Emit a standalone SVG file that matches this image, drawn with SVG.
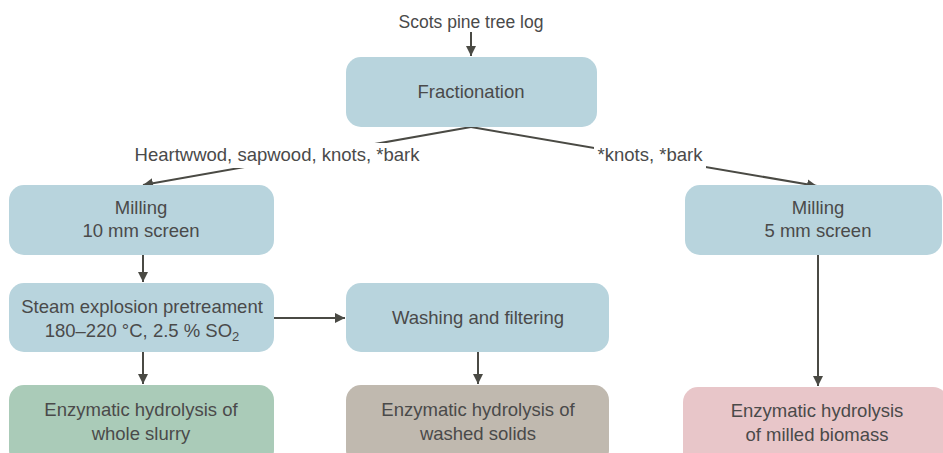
<svg xmlns="http://www.w3.org/2000/svg" width="943" height="453" viewBox="0 0 943 453">
  <defs>
    <marker id="arrow" viewBox="0 0 10 10" refX="10" refY="5" markerWidth="10" markerHeight="10" markerUnits="userSpaceOnUse" orient="auto">
      <path d="M0,0 L10,5 L0,10 z" fill="#4a4a44"/>
    </marker>
  </defs>
  <style>
    text { font-family: "Liberation Sans", Arial, sans-serif; font-size: 18.5px; fill: #4a4a4a; text-anchor: middle; }
    .title { font-size: 17.5px; }
    .blue { fill: #b8d4dd; }
    .green { fill: #aacbb8; }
    .tan { fill: #c0b9af; }
    .pink { fill: #e8c6c9; }
    .edge { stroke: #4a4a44; stroke-width: 2; fill: none; marker-end: url(#arrow); }
  </style>
  <rect width="943" height="453" fill="#ffffff"/>

  <!-- connectors -->
  <g id="connectors">
    <line class="edge" x1="471" y1="32" x2="471" y2="56"/>
    <line class="edge" x1="471" y1="127" x2="143" y2="185"/>
    <line class="edge" x1="471" y1="127" x2="817" y2="186"/>
    <line class="edge" x1="143" y1="255" x2="143" y2="282"/>
    <line class="edge" x1="143" y1="352" x2="143" y2="384"/>
    <line class="edge" x1="274" y1="318" x2="345" y2="318"/>
    <line class="edge" x1="478" y1="352" x2="478" y2="384"/>
    <line class="edge" x1="818" y1="255" x2="818" y2="386"/>
    <!-- edge labels sit on a white patch over the lines -->
    <rect x="128" y="143" width="298" height="25" fill="#ffffff"/>
    <text x="277" y="161">Heartwwod, sapwood, knots, *bark</text>
    <rect x="594" y="143" width="112" height="25" fill="#ffffff"/>
    <text x="650" y="161">*knots, *bark</text>
  </g>

  <g id="source">
    <text class="title" x="471" y="28">Scots pine tree log</text>
  </g>

  <g id="fractionation">
    <rect class="blue" x="346" y="57" width="251" height="70" rx="15"/>
    <text x="471" y="98">Fractionation</text>
  </g>

  <g id="milling10">
    <rect class="blue" x="9" y="185" width="265" height="70" rx="15"/>
    <text x="141" y="214">Milling</text>
    <text x="141" y="237">10 mm screen</text>
  </g>

  <g id="milling5">
    <rect class="blue" x="685" y="185" width="257" height="70" rx="15"/>
    <text x="818" y="214">Milling</text>
    <text x="818" y="237">5 mm screen</text>
  </g>

  <g id="steam">
    <rect class="blue" x="9" y="283" width="265" height="69" rx="15"/>
    <text x="142" y="313">Steam explosion pretreament</text>
    <text x="142" y="337">180–220 °C, 2.5 % SO<tspan font-size="13" dy="4">2</tspan></text>
  </g>

  <g id="washing">
    <rect class="blue" x="346" y="283" width="263" height="69" rx="15"/>
    <text x="478" y="324">Washing and filtering</text>
  </g>

  <g id="slurry">
    <rect class="green" x="9" y="385" width="265" height="80" rx="15"/>
    <text x="141" y="416">Enzymatic hydrolysis of</text>
    <text x="141" y="440">whole slurry</text>
  </g>

  <g id="solids">
    <rect class="tan" x="346" y="385" width="263" height="80" rx="15"/>
    <text x="478" y="416">Enzymatic hydrolysis of</text>
    <text x="478" y="440">washed solids</text>
  </g>

  <g id="milled">
    <rect class="pink" x="683" y="387" width="265" height="80" rx="15"/>
    <text x="817" y="417">Enzymatic hydrolysis</text>
    <text x="817" y="441">of milled biomass</text>
  </g>
</svg>
